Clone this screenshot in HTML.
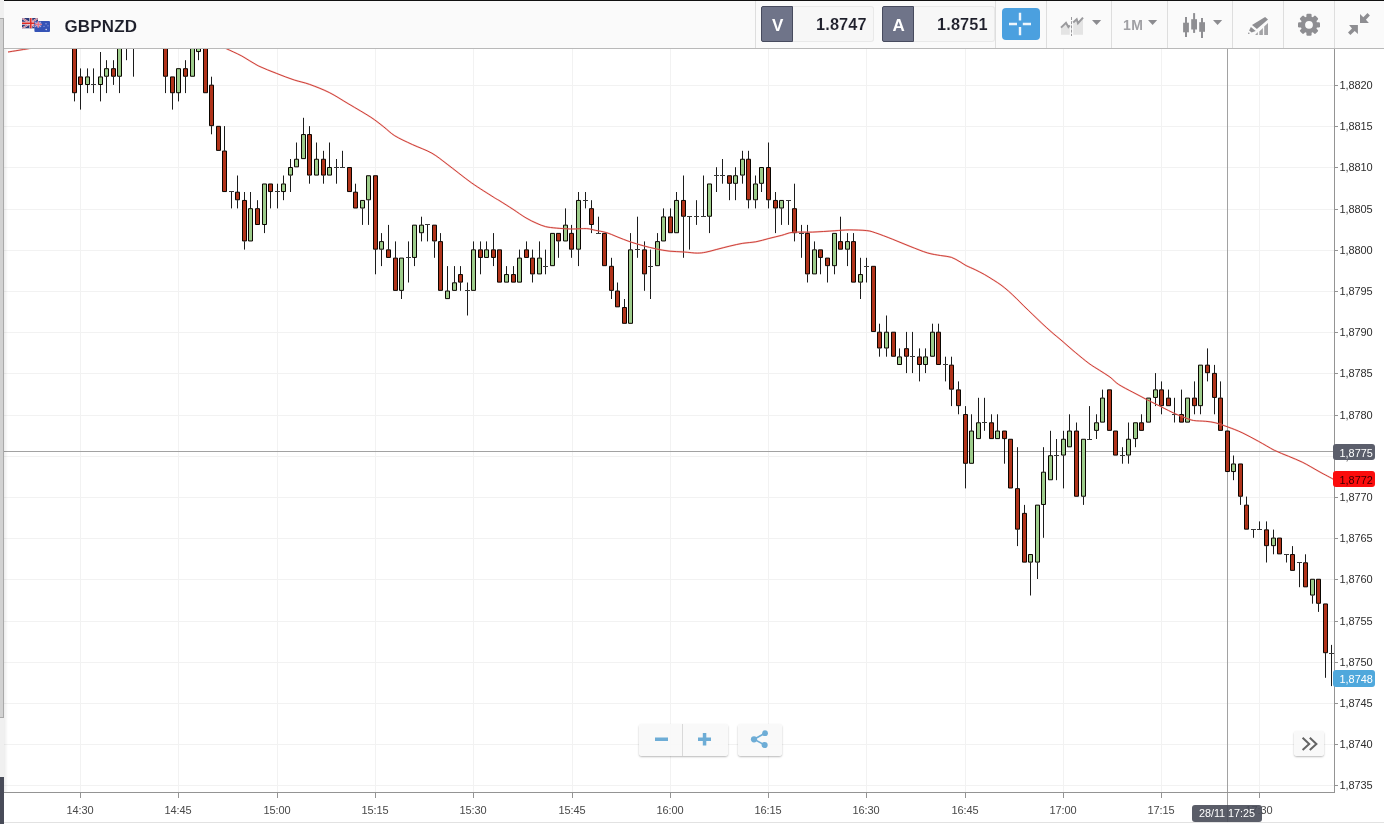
<!DOCTYPE html>
<html lang="en">
<head>
<meta charset="utf-8">
<title>GBPNZD</title>
<style>
html,body{margin:0;padding:0;}
body{width:1384px;height:824px;position:relative;overflow:hidden;background:#fff;font-family:"Liberation Sans",Arial,sans-serif;}
.abs{position:absolute;}
#leftstrip{left:0;top:0;width:3.6px;height:824px;background:#f0f0f0;}
#thumb{left:0;top:18px;width:3px;height:700px;background:#d2d2d2;border-right:1px solid #a9a9a9;border-top:1px solid #a9a9a9;border-bottom:1px solid #a9a9a9;box-sizing:border-box;width:3.6px;}
#darkblk{left:0;top:777px;width:3.6px;height:47px;background:#484b58;}
#topline{left:4px;top:0;width:1380px;height:1px;background:#111;}
#header{left:4px;top:1px;width:1380px;height:47px;background:#fafafa;border-bottom:1px solid #b9b9b9;}
.sep{position:absolute;top:1px;width:1px;height:47px;background:#dedede;}
#title{left:64.5px;top:15.5px;font-size:17px;font-weight:bold;color:#1e1f2b;line-height:22px;letter-spacing:0.15px;white-space:nowrap;-webkit-text-stroke:0.1px #fafafa;}
.pbtn{position:absolute;top:6px;height:36px;box-sizing:border-box;}
.pbtn span{position:relative;top:1px;}
.pv span{top:0.2px;}
.pl{width:32px;background:#6f7489;border:1px solid #474b5e;border-radius:2px 0 0 2px;color:#fff;font-weight:bold;font-size:17px;text-align:center;line-height:35px;padding-left:1.5px;}
.pv{width:81px;background:#f7f7f7;border:1px solid #e9e9e9;border-left:none;border-radius:0 3px 3px 0;color:#1e1f2b;font-weight:bold;font-size:16.3px;text-align:right;line-height:35px;padding-right:6.3px;letter-spacing:0.15px;-webkit-text-stroke:0.1px #f7f7f7;}
#cross{left:1002px;top:8px;width:38px;height:32px;background:#4ba0df;border-radius:4px;}
#svgov{left:0;top:0;}
.lbl{position:absolute;left:1333px;width:42px;height:16.5px;border-radius:3px;font-size:10.9px;line-height:18.3px;box-sizing:border-box;padding-left:6.5px;white-space:nowrap;overflow:hidden;}
.zbtn{position:absolute;background:rgba(248,248,248,0.88);box-shadow:0 1px 2px rgba(0,0,0,0.28);}
#tip{left:1192px;top:805px;width:70px;height:17px;border-radius:3px;background:rgba(72,75,88,0.9);color:#fff;font-size:10.8px;line-height:17px;text-align:center;white-space:nowrap;}
#botline{left:4px;top:822px;width:1380px;height:1px;background:#e2e2e2;}
</style>
</head>
<body>
<svg class="abs" id="chart" style="left:0;top:0" width="1384" height="824" viewBox="0 0 1384 824">
<g stroke="#f2f2f2" stroke-width="1"><line x1="4" x2="1334" y1="85.5" y2="85.5"/><line x1="4" x2="1334" y1="126.5" y2="126.5"/><line x1="4" x2="1334" y1="167.5" y2="167.5"/><line x1="4" x2="1334" y1="209.5" y2="209.5"/><line x1="4" x2="1334" y1="250.5" y2="250.5"/><line x1="4" x2="1334" y1="291.5" y2="291.5"/><line x1="4" x2="1334" y1="332.5" y2="332.5"/><line x1="4" x2="1334" y1="373.5" y2="373.5"/><line x1="4" x2="1334" y1="415.5" y2="415.5"/><line x1="4" x2="1334" y1="456.5" y2="456.5"/><line x1="4" x2="1334" y1="497.5" y2="497.5"/><line x1="4" x2="1334" y1="538.5" y2="538.5"/><line x1="4" x2="1334" y1="579.5" y2="579.5"/><line x1="4" x2="1334" y1="621.5" y2="621.5"/><line x1="4" x2="1334" y1="662.5" y2="662.5"/><line x1="4" x2="1334" y1="703.5" y2="703.5"/><line x1="4" x2="1334" y1="744.5" y2="744.5"/><line x1="4" x2="1334" y1="785.5" y2="785.5"/><line x1="80.5" x2="80.5" y1="49" y2="792"/><line x1="178.5" x2="178.5" y1="49" y2="792"/><line x1="277.5" x2="277.5" y1="49" y2="792"/><line x1="375.5" x2="375.5" y1="49" y2="792"/><line x1="473.5" x2="473.5" y1="49" y2="792"/><line x1="572.5" x2="572.5" y1="49" y2="792"/><line x1="670.5" x2="670.5" y1="49" y2="792"/><line x1="768.5" x2="768.5" y1="49" y2="792"/><line x1="866.5" x2="866.5" y1="49" y2="792"/><line x1="965.5" x2="965.5" y1="49" y2="792"/><line x1="1063.5" x2="1063.5" y1="49" y2="792"/><line x1="1161.5" x2="1161.5" y1="49" y2="792"/><line x1="1259.5" x2="1259.5" y1="49" y2="792"/></g>
<g stroke="#a2a2a2" stroke-width="1"><line x1="4" x2="1334" y1="451.5" y2="451.5"/><line x1="1227.5" x2="1227.5" y1="49" y2="822"/></g>
<path d="M74.5 93.1V101.4M80.5 68.4V76.7M80.5 84.9V109.6M87.5 68.4V76.7M87.5 84.9V93.1M93.5 68.4V93.1M100.5 52.0V76.7M100.5 84.9V101.4M106.5 60.2V68.4M106.5 76.7V93.1M113.5 60.2V68.4M113.5 76.7V84.9M119.5 76.7V93.1M126.5 19.0V60.2M133.5 19.0V76.7M165.5 76.7V93.1M172.5 93.1V109.6M178.5 93.1V101.4M185.5 60.2V68.4M185.5 76.7V93.1M198.5 19.0V43.7M198.5 52.0V60.2M211.5 76.7V84.9M211.5 126.1V134.3M224.5 126.1V150.8M231.5 192.0V208.4M237.5 175.5V192.0M237.5 200.2V208.4M244.5 192.0V200.2M244.5 241.4V249.6M250.5 192.0V208.4M257.5 200.2V208.4M264.5 224.9V233.1M270.5 192.0V208.4M277.5 183.7V208.4M283.5 175.5V183.7M283.5 192.0V200.2M290.5 159.0V167.2M290.5 175.5V192.0M296.5 142.5V159.0M303.5 117.8V134.3M309.5 126.1V134.3M309.5 175.5V183.7M316.5 142.5V159.0M323.5 150.8V159.0M323.5 175.5V183.7M329.5 142.5V167.2M336.5 159.0V183.7M342.5 150.8V167.2M355.5 183.7V192.0M362.5 208.4V224.9M368.5 200.2V224.9M375.5 249.6V274.3M381.5 233.1V241.4M381.5 249.6V266.1M388.5 224.9V249.6M395.5 241.4V257.8M401.5 290.8V299.0M408.5 241.4V282.5M414.5 257.8V266.1M421.5 216.7V224.9M421.5 233.1V241.4M427.5 224.9V241.4M434.5 241.4V257.8M440.5 233.1V241.4M447.5 266.1V290.8M454.5 266.1V282.5M460.5 266.1V274.3M460.5 282.5V290.8M467.5 282.5V315.5M473.5 241.4V249.6M480.5 241.4V249.6M480.5 257.8V274.3M486.5 241.4V249.6M493.5 233.1V249.6M493.5 257.8V266.1M506.5 266.1V274.3M513.5 266.1V274.3M519.5 249.6V257.8M526.5 241.4V249.6M532.5 249.6V257.8M532.5 274.3V282.5M539.5 241.4V257.8M545.5 249.6V274.3M558.5 241.4V257.8M565.5 208.4V224.9M571.5 224.9V233.1M571.5 249.6V257.8M578.5 192.0V200.2M578.5 249.6V266.1M585.5 192.0V208.4M591.5 200.2V208.4M591.5 224.9V233.1M598.5 216.7V233.1M611.5 257.8V266.1M611.5 290.8V299.0M617.5 282.5V290.8M624.5 299.0V307.2M630.5 233.1V249.6M637.5 216.7V257.8M644.5 241.4V249.6M644.5 274.3V290.8M650.5 249.6V299.0M657.5 233.1V241.4M663.5 208.4V216.7M670.5 208.4V216.7M676.5 192.0V200.2M683.5 175.5V200.2M683.5 216.7V257.8M689.5 216.7V249.6M696.5 200.2V224.9M703.5 175.5V216.7M709.5 216.7V233.1M716.5 167.2V192.0M722.5 159.0V183.7M729.5 183.7V200.2M735.5 167.2V175.5M735.5 183.7V200.2M742.5 150.8V159.0M742.5 175.5V183.7M748.5 150.8V159.0M748.5 200.2V208.4M755.5 175.5V183.7M755.5 200.2V208.4M761.5 183.7V192.0M768.5 142.5V167.2M768.5 200.2V208.4M775.5 192.0V200.2M775.5 208.4V233.1M781.5 208.4V224.9M788.5 200.2V224.9M794.5 183.7V208.4M794.5 233.1V241.4M801.5 224.9V257.8M807.5 224.9V233.1M807.5 274.3V282.5M814.5 241.4V249.6M820.5 257.8V274.3M827.5 266.1V282.5M834.5 266.1V274.3M840.5 216.7V241.4M847.5 233.1V241.4M847.5 249.6V266.1M853.5 233.1V241.4M860.5 257.8V274.3M860.5 282.5V299.0M866.5 257.8V282.5M879.5 323.7V331.9M879.5 348.4V356.7M886.5 315.5V331.9M886.5 348.4V356.7M899.5 348.4V356.7M906.5 331.9V348.4M906.5 356.7V373.1M912.5 331.9V373.1M919.5 348.4V356.7M919.5 364.9V381.4M925.5 348.4V356.7M925.5 364.9V373.1M932.5 323.7V331.9M938.5 323.7V331.9M945.5 356.7V381.4M951.5 356.7V364.9M951.5 389.6V406.1M958.5 381.4V389.6M958.5 406.1V414.3M965.5 406.1V414.3M965.5 463.7V488.4M971.5 414.3V430.8M978.5 397.8V422.5M984.5 397.8V430.8M991.5 414.3V422.5M997.5 414.3V430.8M1004.5 439.0V463.7M1017.5 447.2V488.4M1017.5 529.6V546.1M1024.5 504.9V513.1M1030.5 562.5V595.5M1037.5 562.5V579.0M1043.5 447.2V471.9M1043.5 504.9V537.8M1050.5 430.8V455.5M1056.5 439.0V480.2M1063.5 430.8V439.0M1063.5 455.5V488.4M1069.5 414.3V430.8M1076.5 422.5V430.8M1083.5 496.6V504.9M1089.5 406.1V439.0M1096.5 414.3V422.5M1096.5 430.8V439.0M1102.5 389.6V397.8M1122.5 447.2V463.7M1128.5 422.5V439.0M1128.5 455.5V463.7M1135.5 439.0V447.2M1141.5 414.3V422.5M1155.5 373.1V389.6M1155.5 397.8V406.1M1161.5 381.4V389.6M1161.5 406.1V414.3M1168.5 389.6V397.8M1174.5 397.8V422.5M1181.5 389.6V414.3M1194.5 381.4V397.8M1194.5 406.1V414.3M1200.5 406.1V414.3M1207.5 348.4V364.9M1207.5 373.1V381.4M1214.5 364.9V373.1M1214.5 397.8V414.3M1220.5 381.4V397.8M1233.5 455.5V463.7M1233.5 471.9V480.2M1240.5 496.6V504.9M1246.5 496.6V504.9M1253.5 529.6V537.8M1259.5 521.4V529.6M1266.5 521.4V529.6M1266.5 546.1V562.5M1273.5 529.6V537.8M1273.5 546.1V554.3M1286.5 554.3V562.5M1292.5 546.1V554.3M1299.5 562.5V587.2M1305.5 554.3V562.5M1312.5 595.5V603.7M1318.5 603.7V611.9M1325.5 653.1V677.8M1331.5 644.9V686.1" stroke="#1c1c1c" stroke-width="1" fill="none"/>
<path d="M91.0 84.5H96.0M124.0 19.5H129.0M131.0 19.5H136.0M229.0 191.5H234.0M275.0 191.5H280.0M334.0 167.5H339.0M340.0 167.5H345.0M406.0 257.5H411.0M425.0 224.5H430.0M465.0 290.5H470.0M543.0 266.5H548.0M583.0 200.5H588.0M596.0 233.5H601.0M635.0 249.5H640.0M648.0 266.5H653.0M687.0 216.5H692.0M694.0 216.5H699.0M701.0 216.5H706.0M714.0 175.5H719.0M720.0 175.5H725.0M786.0 200.5H791.0M799.0 233.5H804.0M864.0 266.5H869.0M910.0 356.5H915.0M943.0 364.5H948.0M982.0 422.5H987.0M1054.0 455.5H1059.0M1087.0 439.5H1092.0M1120.0 455.5H1125.0M1172.0 414.5H1177.0M1251.0 529.5H1256.0M1257.0 529.5H1262.0M1284.0 554.5H1289.0M1297.0 562.5H1302.0M1329.0 653.5H1334.0" stroke="#3a3a3a" stroke-width="1" fill="none"/>
<g stroke="#0a0500" stroke-width="1" stroke-linejoin="round"><rect x="72.5" y="19.27" width="4" height="73.46" fill="#b0331a"/><rect x="78.5" y="76.92" width="4" height="7.58" fill="#b0331a"/><rect x="85.5" y="76.92" width="4" height="7.58" fill="#9dcc8b"/><rect x="98.5" y="76.92" width="4" height="7.58" fill="#9dcc8b"/><rect x="104.5" y="68.68" width="4" height="7.58" fill="#9dcc8b"/><rect x="111.5" y="68.68" width="4" height="7.58" fill="#b0331a"/><rect x="117.5" y="19.27" width="4" height="56.99" fill="#9dcc8b"/><rect x="163.5" y="19.27" width="4" height="56.99" fill="#b0331a"/><rect x="170.5" y="76.92" width="4" height="15.82" fill="#b0331a"/><rect x="176.5" y="68.68" width="4" height="24.05" fill="#9dcc8b"/><rect x="183.5" y="68.68" width="4" height="7.58" fill="#b0331a"/><rect x="190.5" y="19.27" width="4" height="56.99" fill="#9dcc8b"/><rect x="196.5" y="43.98" width="4" height="7.58" fill="#9dcc8b"/><rect x="203.5" y="19.27" width="4" height="73.46" fill="#b0331a"/><rect x="209.5" y="85.15" width="4" height="40.52" fill="#b0331a"/><rect x="216.5" y="126.33" width="4" height="24.05" fill="#b0331a"/><rect x="222.5" y="151.03" width="4" height="40.52" fill="#b0331a"/><rect x="235.5" y="192.20" width="4" height="7.59" fill="#b0331a"/><rect x="242.5" y="200.44" width="4" height="40.52" fill="#b0331a"/><rect x="248.5" y="208.68" width="4" height="32.29" fill="#9dcc8b"/><rect x="255.5" y="208.68" width="4" height="15.82" fill="#b0331a"/><rect x="262.5" y="183.97" width="4" height="40.53" fill="#9dcc8b"/><rect x="268.5" y="183.97" width="4" height="7.58" fill="#b0331a"/><rect x="281.5" y="183.97" width="4" height="7.58" fill="#9dcc8b"/><rect x="288.5" y="167.50" width="4" height="7.59" fill="#9dcc8b"/><rect x="294.5" y="159.26" width="4" height="7.59" fill="#9dcc8b"/><rect x="301.5" y="134.56" width="4" height="24.05" fill="#9dcc8b"/><rect x="307.5" y="134.56" width="4" height="40.53" fill="#b0331a"/><rect x="314.5" y="159.26" width="4" height="15.82" fill="#9dcc8b"/><rect x="321.5" y="159.26" width="4" height="15.82" fill="#b0331a"/><rect x="327.5" y="167.50" width="4" height="7.59" fill="#9dcc8b"/><rect x="347.5" y="167.50" width="4" height="24.05" fill="#b0331a"/><rect x="353.5" y="192.20" width="4" height="15.82" fill="#b0331a"/><rect x="360.5" y="200.44" width="4" height="7.59" fill="#9dcc8b"/><rect x="366.5" y="175.74" width="4" height="24.05" fill="#9dcc8b"/><rect x="373.5" y="175.74" width="4" height="73.46" fill="#b0331a"/><rect x="379.5" y="241.61" width="4" height="7.59" fill="#9dcc8b"/><rect x="386.5" y="249.85" width="4" height="7.59" fill="#b0331a"/><rect x="393.5" y="258.09" width="4" height="32.29" fill="#b0331a"/><rect x="399.5" y="258.09" width="4" height="32.29" fill="#9dcc8b"/><rect x="412.5" y="225.15" width="4" height="32.29" fill="#9dcc8b"/><rect x="419.5" y="225.15" width="4" height="7.58" fill="#9dcc8b"/><rect x="432.5" y="225.15" width="4" height="15.82" fill="#b0331a"/><rect x="438.5" y="241.61" width="4" height="48.76" fill="#b0331a"/><rect x="445.5" y="291.02" width="4" height="7.59" fill="#9dcc8b"/><rect x="452.5" y="282.79" width="4" height="7.59" fill="#9dcc8b"/><rect x="458.5" y="274.55" width="4" height="7.59" fill="#b0331a"/><rect x="471.5" y="249.85" width="4" height="40.52" fill="#9dcc8b"/><rect x="478.5" y="249.85" width="4" height="7.59" fill="#b0331a"/><rect x="484.5" y="249.85" width="4" height="7.59" fill="#9dcc8b"/><rect x="491.5" y="249.85" width="4" height="7.59" fill="#b0331a"/><rect x="497.5" y="249.85" width="4" height="32.29" fill="#b0331a"/><rect x="504.5" y="274.55" width="4" height="7.59" fill="#9dcc8b"/><rect x="511.5" y="274.55" width="4" height="7.59" fill="#b0331a"/><rect x="517.5" y="258.09" width="4" height="24.05" fill="#9dcc8b"/><rect x="524.5" y="249.85" width="4" height="7.59" fill="#b0331a"/><rect x="530.5" y="258.09" width="4" height="15.82" fill="#b0331a"/><rect x="537.5" y="258.09" width="4" height="15.82" fill="#9dcc8b"/><rect x="550.5" y="233.38" width="4" height="32.29" fill="#9dcc8b"/><rect x="556.5" y="233.38" width="4" height="7.58" fill="#b0331a"/><rect x="563.5" y="225.15" width="4" height="15.82" fill="#9dcc8b"/><rect x="569.5" y="233.38" width="4" height="15.82" fill="#b0331a"/><rect x="576.5" y="200.44" width="4" height="48.76" fill="#9dcc8b"/><rect x="589.5" y="208.68" width="4" height="15.82" fill="#b0331a"/><rect x="602.5" y="233.38" width="4" height="32.29" fill="#b0331a"/><rect x="609.5" y="266.32" width="4" height="24.05" fill="#b0331a"/><rect x="615.5" y="291.02" width="4" height="15.82" fill="#b0331a"/><rect x="622.5" y="307.50" width="4" height="15.82" fill="#b0331a"/><rect x="628.5" y="249.85" width="4" height="73.47" fill="#9dcc8b"/><rect x="642.5" y="249.85" width="4" height="24.05" fill="#b0331a"/><rect x="655.5" y="241.61" width="4" height="24.06" fill="#9dcc8b"/><rect x="661.5" y="216.91" width="4" height="24.05" fill="#9dcc8b"/><rect x="668.5" y="216.91" width="4" height="15.82" fill="#b0331a"/><rect x="674.5" y="200.44" width="4" height="32.29" fill="#9dcc8b"/><rect x="681.5" y="200.44" width="4" height="15.82" fill="#b0331a"/><rect x="707.5" y="183.97" width="4" height="32.29" fill="#9dcc8b"/><rect x="727.5" y="175.74" width="4" height="7.58" fill="#b0331a"/><rect x="733.5" y="175.74" width="4" height="7.58" fill="#9dcc8b"/><rect x="740.5" y="159.26" width="4" height="15.82" fill="#9dcc8b"/><rect x="746.5" y="159.26" width="4" height="40.53" fill="#b0331a"/><rect x="753.5" y="183.97" width="4" height="15.82" fill="#9dcc8b"/><rect x="759.5" y="167.50" width="4" height="15.82" fill="#9dcc8b"/><rect x="766.5" y="167.50" width="4" height="32.29" fill="#b0331a"/><rect x="773.5" y="200.44" width="4" height="7.59" fill="#b0331a"/><rect x="779.5" y="200.44" width="4" height="7.59" fill="#9dcc8b"/><rect x="792.5" y="208.68" width="4" height="24.05" fill="#b0331a"/><rect x="805.5" y="233.38" width="4" height="40.52" fill="#b0331a"/><rect x="812.5" y="249.85" width="4" height="24.05" fill="#9dcc8b"/><rect x="818.5" y="249.85" width="4" height="7.59" fill="#b0331a"/><rect x="825.5" y="258.09" width="4" height="7.58" fill="#b0331a"/><rect x="832.5" y="233.38" width="4" height="32.29" fill="#9dcc8b"/><rect x="838.5" y="241.61" width="4" height="7.59" fill="#b0331a"/><rect x="845.5" y="241.61" width="4" height="7.59" fill="#9dcc8b"/><rect x="851.5" y="241.61" width="4" height="40.52" fill="#b0331a"/><rect x="858.5" y="274.55" width="4" height="7.59" fill="#9dcc8b"/><rect x="871.5" y="266.32" width="4" height="65.23" fill="#b0331a"/><rect x="877.5" y="332.20" width="4" height="15.82" fill="#b0331a"/><rect x="884.5" y="332.20" width="4" height="15.82" fill="#9dcc8b"/><rect x="891.5" y="332.20" width="4" height="24.05" fill="#b0331a"/><rect x="897.5" y="356.90" width="4" height="7.59" fill="#9dcc8b"/><rect x="904.5" y="348.67" width="4" height="7.59" fill="#b0331a"/><rect x="917.5" y="356.90" width="4" height="7.59" fill="#b0331a"/><rect x="923.5" y="356.90" width="4" height="7.59" fill="#9dcc8b"/><rect x="930.5" y="332.20" width="4" height="24.05" fill="#9dcc8b"/><rect x="936.5" y="332.20" width="4" height="32.29" fill="#b0331a"/><rect x="949.5" y="365.14" width="4" height="24.06" fill="#b0331a"/><rect x="956.5" y="389.85" width="4" height="15.82" fill="#b0331a"/><rect x="963.5" y="414.55" width="4" height="48.76" fill="#b0331a"/><rect x="969.5" y="431.02" width="4" height="32.29" fill="#9dcc8b"/><rect x="976.5" y="422.78" width="4" height="15.82" fill="#9dcc8b"/><rect x="989.5" y="422.78" width="4" height="15.82" fill="#b0331a"/><rect x="995.5" y="431.02" width="4" height="7.59" fill="#9dcc8b"/><rect x="1002.5" y="431.02" width="4" height="7.59" fill="#b0331a"/><rect x="1008.5" y="439.25" width="4" height="48.76" fill="#b0331a"/><rect x="1015.5" y="488.66" width="4" height="40.52" fill="#b0331a"/><rect x="1022.5" y="513.37" width="4" height="48.76" fill="#b0331a"/><rect x="1028.5" y="554.54" width="4" height="7.59" fill="#9dcc8b"/><rect x="1035.5" y="505.13" width="4" height="56.99" fill="#9dcc8b"/><rect x="1041.5" y="472.19" width="4" height="32.29" fill="#9dcc8b"/><rect x="1048.5" y="455.73" width="4" height="24.05" fill="#9dcc8b"/><rect x="1061.5" y="439.25" width="4" height="15.82" fill="#9dcc8b"/><rect x="1067.5" y="431.02" width="4" height="15.82" fill="#9dcc8b"/><rect x="1074.5" y="431.02" width="4" height="65.23" fill="#b0331a"/><rect x="1081.5" y="439.25" width="4" height="56.99" fill="#9dcc8b"/><rect x="1094.5" y="422.78" width="4" height="7.59" fill="#9dcc8b"/><rect x="1100.5" y="398.08" width="4" height="24.06" fill="#9dcc8b"/><rect x="1107.5" y="389.85" width="4" height="40.52" fill="#b0331a"/><rect x="1113.5" y="431.02" width="4" height="24.06" fill="#b0331a"/><rect x="1126.5" y="439.25" width="4" height="15.82" fill="#9dcc8b"/><rect x="1133.5" y="422.78" width="4" height="15.82" fill="#9dcc8b"/><rect x="1139.5" y="422.78" width="4" height="7.59" fill="#b0331a"/><rect x="1146.5" y="398.08" width="4" height="24.06" fill="#9dcc8b"/><rect x="1153.5" y="389.85" width="4" height="7.58" fill="#9dcc8b"/><rect x="1159.5" y="389.85" width="4" height="15.82" fill="#b0331a"/><rect x="1166.5" y="398.08" width="4" height="7.59" fill="#b0331a"/><rect x="1179.5" y="414.55" width="4" height="7.59" fill="#b0331a"/><rect x="1185.5" y="398.08" width="4" height="24.06" fill="#9dcc8b"/><rect x="1192.5" y="398.08" width="4" height="7.59" fill="#b0331a"/><rect x="1198.5" y="365.14" width="4" height="40.52" fill="#9dcc8b"/><rect x="1205.5" y="365.14" width="4" height="7.59" fill="#b0331a"/><rect x="1212.5" y="373.38" width="4" height="24.05" fill="#b0331a"/><rect x="1218.5" y="398.08" width="4" height="32.29" fill="#b0331a"/><rect x="1225.5" y="431.02" width="4" height="40.52" fill="#b0331a"/><rect x="1231.5" y="463.96" width="4" height="7.59" fill="#9dcc8b"/><rect x="1238.5" y="463.96" width="4" height="32.29" fill="#b0331a"/><rect x="1244.5" y="505.13" width="4" height="24.05" fill="#b0331a"/><rect x="1264.5" y="529.84" width="4" height="15.82" fill="#b0331a"/><rect x="1271.5" y="538.07" width="4" height="7.59" fill="#9dcc8b"/><rect x="1277.5" y="538.07" width="4" height="15.82" fill="#b0331a"/><rect x="1290.5" y="554.54" width="4" height="15.82" fill="#b0331a"/><rect x="1303.5" y="562.78" width="4" height="24.06" fill="#b0331a"/><rect x="1310.5" y="579.25" width="4" height="15.82" fill="#9dcc8b"/><rect x="1316.5" y="579.25" width="4" height="24.05" fill="#b0331a"/><rect x="1323.5" y="603.95" width="4" height="48.76" fill="#b0331a"/></g>
<path d="M8.0 52.0C9.7 51.7 14.5 51.0 18.0 50.4C21.5 49.8 25.3 49.2 29.0 48.6C32.7 48.0 38.2 46.9 40.0 46.5M220.0 45.5C221.1 46.0 223.0 47.0 226.6 48.8C230.2 50.5 236.5 53.2 241.8 56.0C247.1 58.8 252.4 62.9 258.2 65.8C264.0 68.7 270.8 71.1 276.8 73.5C282.8 75.9 288.8 78.2 294.3 80.0C299.8 81.8 303.8 82.3 309.6 84.4C315.4 86.5 322.6 89.2 329.2 92.5C335.8 95.8 342.0 100.0 348.9 104.1C355.8 108.2 365.0 113.4 370.8 117.2C376.6 121.0 379.9 123.9 383.9 127.0C387.9 130.1 390.1 132.9 394.8 135.8C399.5 138.7 406.1 141.6 412.3 144.5C418.5 147.4 426.1 149.9 431.9 153.2C437.7 156.5 440.6 159.3 447.2 164.2C453.8 169.1 463.6 177.2 471.3 182.7C479.0 188.1 488.3 193.8 493.1 196.9C497.9 200.0 496.7 198.9 500.0 201.0C503.3 203.1 508.7 206.5 513.0 209.3C517.3 212.1 522.0 215.6 526.0 217.9C530.0 220.2 533.6 222.0 536.9 223.4C540.1 224.8 542.2 225.8 545.5 226.6C548.8 227.4 552.1 227.7 556.4 228.1C560.7 228.5 566.5 228.9 571.5 229.0C576.5 229.1 582.7 228.4 586.7 228.6C590.7 228.8 592.1 229.7 595.4 230.3C598.6 231.0 602.6 231.4 606.2 232.5C609.8 233.6 613.1 235.2 617.1 236.8C621.1 238.4 625.8 240.3 630.1 241.8C634.4 243.3 638.8 244.5 643.1 245.7C647.4 246.9 651.8 248.0 656.1 248.9C660.4 249.8 664.4 250.6 669.1 251.1C673.8 251.6 679.6 251.7 684.3 252.0C689.0 252.3 693.7 253.1 697.3 253.1C700.9 253.1 702.6 252.8 705.9 252.2C709.1 251.6 712.8 250.4 716.8 249.4C720.8 248.4 725.5 247.1 729.8 246.1C734.1 245.1 738.5 244.0 742.8 243.3C747.1 242.6 751.5 242.6 755.8 241.8C760.1 241.0 764.5 239.6 768.8 238.5C773.1 237.4 777.8 236.3 781.8 235.3C785.8 234.3 787.9 232.8 793.0 232.3C798.1 231.8 805.6 232.3 812.5 232.1C819.4 231.8 828.1 231.2 834.2 230.8C840.4 230.4 844.0 229.9 849.4 229.9C854.8 229.9 862.4 230.1 866.7 230.6C871.0 231.1 871.1 231.4 875.4 232.8C879.7 234.2 886.9 237.0 892.7 239.3C898.5 241.6 904.3 244.1 910.1 246.4C915.9 248.7 922.4 251.4 927.4 252.9C932.4 254.4 936.4 254.8 940.4 255.5C944.4 256.2 948.0 256.2 951.3 257.3C954.6 258.4 957.5 260.4 960.0 261.8C962.5 263.2 963.6 264.3 966.1 265.6C968.6 266.9 972.2 268.2 975.2 269.7C978.2 271.2 981.3 272.7 984.3 274.4C987.3 276.1 990.6 278.2 993.4 280.0C996.2 281.8 998.5 283.1 1001.0 285.0C1003.5 286.9 1006.0 288.9 1008.5 291.1C1011.0 293.3 1013.6 295.8 1016.1 298.2C1018.6 300.6 1020.9 303.1 1023.7 305.8C1026.5 308.5 1029.8 311.7 1032.8 314.6C1035.8 317.5 1038.9 320.5 1041.9 323.3C1044.9 326.1 1047.5 328.5 1051.0 331.6C1054.5 334.7 1059.0 338.3 1063.1 341.8C1067.1 345.3 1071.0 348.8 1075.3 352.4C1079.6 356.0 1084.9 360.4 1088.9 363.4C1092.9 366.4 1096.0 368.0 1099.5 370.3C1103.0 372.6 1106.8 374.7 1110.0 377.1C1113.2 379.5 1114.9 382.0 1118.7 384.5C1122.5 387.0 1128.1 389.7 1132.8 392.2C1137.5 394.7 1142.3 397.3 1147.0 399.7C1151.7 402.1 1156.5 404.4 1161.2 406.8C1165.9 409.2 1171.3 412.0 1175.3 413.8C1179.3 415.6 1182.4 416.8 1185.4 417.9C1188.4 419.0 1190.1 419.9 1193.5 420.5C1196.9 421.1 1202.0 420.9 1205.7 421.3C1209.4 421.7 1212.1 421.9 1215.8 422.9C1219.5 423.8 1223.5 425.4 1227.9 427.0C1232.3 428.6 1237.0 430.3 1242.1 432.7C1247.2 435.1 1252.9 438.3 1258.3 441.2C1263.7 444.1 1269.4 447.8 1274.4 450.3C1279.5 452.8 1283.9 454.3 1288.6 456.3C1293.3 458.3 1297.7 459.9 1302.8 462.4C1307.9 464.9 1313.8 468.6 1319.0 471.5C1324.2 474.4 1331.5 478.2 1334.0 479.6" stroke="#f4a9a4" stroke-width="1.7" fill="none" stroke-linejoin="round" opacity="0.55"/>
<path d="M8.0 52.0C9.7 51.7 14.5 51.0 18.0 50.4C21.5 49.8 25.3 49.2 29.0 48.6C32.7 48.0 38.2 46.9 40.0 46.5M220.0 45.5C221.1 46.0 223.0 47.0 226.6 48.8C230.2 50.5 236.5 53.2 241.8 56.0C247.1 58.8 252.4 62.9 258.2 65.8C264.0 68.7 270.8 71.1 276.8 73.5C282.8 75.9 288.8 78.2 294.3 80.0C299.8 81.8 303.8 82.3 309.6 84.4C315.4 86.5 322.6 89.2 329.2 92.5C335.8 95.8 342.0 100.0 348.9 104.1C355.8 108.2 365.0 113.4 370.8 117.2C376.6 121.0 379.9 123.9 383.9 127.0C387.9 130.1 390.1 132.9 394.8 135.8C399.5 138.7 406.1 141.6 412.3 144.5C418.5 147.4 426.1 149.9 431.9 153.2C437.7 156.5 440.6 159.3 447.2 164.2C453.8 169.1 463.6 177.2 471.3 182.7C479.0 188.1 488.3 193.8 493.1 196.9C497.9 200.0 496.7 198.9 500.0 201.0C503.3 203.1 508.7 206.5 513.0 209.3C517.3 212.1 522.0 215.6 526.0 217.9C530.0 220.2 533.6 222.0 536.9 223.4C540.1 224.8 542.2 225.8 545.5 226.6C548.8 227.4 552.1 227.7 556.4 228.1C560.7 228.5 566.5 228.9 571.5 229.0C576.5 229.1 582.7 228.4 586.7 228.6C590.7 228.8 592.1 229.7 595.4 230.3C598.6 231.0 602.6 231.4 606.2 232.5C609.8 233.6 613.1 235.2 617.1 236.8C621.1 238.4 625.8 240.3 630.1 241.8C634.4 243.3 638.8 244.5 643.1 245.7C647.4 246.9 651.8 248.0 656.1 248.9C660.4 249.8 664.4 250.6 669.1 251.1C673.8 251.6 679.6 251.7 684.3 252.0C689.0 252.3 693.7 253.1 697.3 253.1C700.9 253.1 702.6 252.8 705.9 252.2C709.1 251.6 712.8 250.4 716.8 249.4C720.8 248.4 725.5 247.1 729.8 246.1C734.1 245.1 738.5 244.0 742.8 243.3C747.1 242.6 751.5 242.6 755.8 241.8C760.1 241.0 764.5 239.6 768.8 238.5C773.1 237.4 777.8 236.3 781.8 235.3C785.8 234.3 787.9 232.8 793.0 232.3C798.1 231.8 805.6 232.3 812.5 232.1C819.4 231.8 828.1 231.2 834.2 230.8C840.4 230.4 844.0 229.9 849.4 229.9C854.8 229.9 862.4 230.1 866.7 230.6C871.0 231.1 871.1 231.4 875.4 232.8C879.7 234.2 886.9 237.0 892.7 239.3C898.5 241.6 904.3 244.1 910.1 246.4C915.9 248.7 922.4 251.4 927.4 252.9C932.4 254.4 936.4 254.8 940.4 255.5C944.4 256.2 948.0 256.2 951.3 257.3C954.6 258.4 957.5 260.4 960.0 261.8C962.5 263.2 963.6 264.3 966.1 265.6C968.6 266.9 972.2 268.2 975.2 269.7C978.2 271.2 981.3 272.7 984.3 274.4C987.3 276.1 990.6 278.2 993.4 280.0C996.2 281.8 998.5 283.1 1001.0 285.0C1003.5 286.9 1006.0 288.9 1008.5 291.1C1011.0 293.3 1013.6 295.8 1016.1 298.2C1018.6 300.6 1020.9 303.1 1023.7 305.8C1026.5 308.5 1029.8 311.7 1032.8 314.6C1035.8 317.5 1038.9 320.5 1041.9 323.3C1044.9 326.1 1047.5 328.5 1051.0 331.6C1054.5 334.7 1059.0 338.3 1063.1 341.8C1067.1 345.3 1071.0 348.8 1075.3 352.4C1079.6 356.0 1084.9 360.4 1088.9 363.4C1092.9 366.4 1096.0 368.0 1099.5 370.3C1103.0 372.6 1106.8 374.7 1110.0 377.1C1113.2 379.5 1114.9 382.0 1118.7 384.5C1122.5 387.0 1128.1 389.7 1132.8 392.2C1137.5 394.7 1142.3 397.3 1147.0 399.7C1151.7 402.1 1156.5 404.4 1161.2 406.8C1165.9 409.2 1171.3 412.0 1175.3 413.8C1179.3 415.6 1182.4 416.8 1185.4 417.9C1188.4 419.0 1190.1 419.9 1193.5 420.5C1196.9 421.1 1202.0 420.9 1205.7 421.3C1209.4 421.7 1212.1 421.9 1215.8 422.9C1219.5 423.8 1223.5 425.4 1227.9 427.0C1232.3 428.6 1237.0 430.3 1242.1 432.7C1247.2 435.1 1252.9 438.3 1258.3 441.2C1263.7 444.1 1269.4 447.8 1274.4 450.3C1279.5 452.8 1283.9 454.3 1288.6 456.3C1293.3 458.3 1297.7 459.9 1302.8 462.4C1307.9 464.9 1313.8 468.6 1319.0 471.5C1324.2 474.4 1331.5 478.2 1334.0 479.6" stroke="#c4261e" stroke-width="0.85" fill="none" stroke-linejoin="round"/>

<g stroke="#949494" stroke-width="1">
<line x1="4" x2="1335" y1="792.5" y2="792.5"/>
<line x1="1334.5" x2="1334.5" y1="49" y2="793"/>
<line x1="1335" x2="1338" y1="85.5" y2="85.5"/><line x1="1335" x2="1338" y1="126.5" y2="126.5"/><line x1="1335" x2="1338" y1="167.5" y2="167.5"/><line x1="1335" x2="1338" y1="209.5" y2="209.5"/><line x1="1335" x2="1338" y1="250.5" y2="250.5"/><line x1="1335" x2="1338" y1="291.5" y2="291.5"/><line x1="1335" x2="1338" y1="332.5" y2="332.5"/><line x1="1335" x2="1338" y1="373.5" y2="373.5"/><line x1="1335" x2="1338" y1="415.5" y2="415.5"/><line x1="1335" x2="1338" y1="456.5" y2="456.5"/><line x1="1335" x2="1338" y1="497.5" y2="497.5"/><line x1="1335" x2="1338" y1="538.5" y2="538.5"/><line x1="1335" x2="1338" y1="579.5" y2="579.5"/><line x1="1335" x2="1338" y1="621.5" y2="621.5"/><line x1="1335" x2="1338" y1="662.5" y2="662.5"/><line x1="1335" x2="1338" y1="703.5" y2="703.5"/><line x1="1335" x2="1338" y1="744.5" y2="744.5"/><line x1="1335" x2="1338" y1="785.5" y2="785.5"/><line x1="80.5" x2="80.5" y1="793" y2="798"/><line x1="178.5" x2="178.5" y1="793" y2="798"/><line x1="277.5" x2="277.5" y1="793" y2="798"/><line x1="375.5" x2="375.5" y1="793" y2="798"/><line x1="473.5" x2="473.5" y1="793" y2="798"/><line x1="572.5" x2="572.5" y1="793" y2="798"/><line x1="670.5" x2="670.5" y1="793" y2="798"/><line x1="768.5" x2="768.5" y1="793" y2="798"/><line x1="866.5" x2="866.5" y1="793" y2="798"/><line x1="965.5" x2="965.5" y1="793" y2="798"/><line x1="1063.5" x2="1063.5" y1="793" y2="798"/><line x1="1161.5" x2="1161.5" y1="793" y2="798"/><line x1="1259.5" x2="1259.5" y1="793" y2="798"/>
</g>
<g font-family="'Liberation Sans', Arial, sans-serif" font-size="11" letter-spacing="-0.12" fill="#2e2e2e">
<text x="1339.5" y="89.2">1,8820</text><text x="1339.5" y="130.2">1,8815</text><text x="1339.5" y="171.2">1,8810</text><text x="1339.5" y="213.2">1,8805</text><text x="1339.5" y="254.2">1,8800</text><text x="1339.5" y="295.2">1,8795</text><text x="1339.5" y="336.2">1,8790</text><text x="1339.5" y="377.2">1,8785</text><text x="1339.5" y="419.2">1,8780</text><text x="1339.5" y="460.2">1,8775</text><text x="1339.5" y="501.2">1,8770</text><text x="1339.5" y="542.2">1,8765</text><text x="1339.5" y="583.2">1,8760</text><text x="1339.5" y="625.2">1,8755</text><text x="1339.5" y="666.2">1,8750</text><text x="1339.5" y="707.2">1,8745</text><text x="1339.5" y="748.2">1,8740</text><text x="1339.5" y="789.2">1,8735</text>
</g>
<g font-family="'Liberation Sans', Arial, sans-serif" font-size="11" letter-spacing="-0.15" fill="#484848">
<text x="80.0" y="814" text-anchor="middle">14:30</text><text x="178.0" y="814" text-anchor="middle">14:45</text><text x="277.0" y="814" text-anchor="middle">15:00</text><text x="375.0" y="814" text-anchor="middle">15:15</text><text x="473.0" y="814" text-anchor="middle">15:30</text><text x="572.0" y="814" text-anchor="middle">15:45</text><text x="670.0" y="814" text-anchor="middle">16:00</text><text x="768.0" y="814" text-anchor="middle">16:15</text><text x="866.0" y="814" text-anchor="middle">16:30</text><text x="965.0" y="814" text-anchor="middle">16:45</text><text x="1063.0" y="814" text-anchor="middle">17:00</text><text x="1161.0" y="814" text-anchor="middle">17:15</text><text x="1259.0" y="814" text-anchor="middle">17:30</text>
</g>

</svg>

<div class="abs" id="botline"></div>
<div class="abs" style="left:4px;top:49px;width:4px;height:743px;background:linear-gradient(to right,rgba(0,0,0,0.07),rgba(0,0,0,0))"></div>
<div class="abs" id="leftstrip"></div>
<div class="abs" id="thumb"></div>
<div class="abs" id="darkblk"></div>
<div class="abs" id="topline"></div>
<div class="abs" id="header"></div>

<!-- header separators -->
<div class="sep" style="left:755px"></div>
<div class="sep" style="left:995px"></div>
<div class="sep" style="left:1046px"></div>
<div class="sep" style="left:1111px"></div>
<div class="sep" style="left:1167px"></div>
<div class="sep" style="left:1232px"></div>
<div class="sep" style="left:1283px"></div>
<div class="sep" style="left:1334px"></div>

<div class="abs" id="title">GBPNZD</div>

<div class="pbtn pl" style="left:761px"><span>V</span></div>
<div class="pbtn pv" style="left:793px"><span>1.8747</span></div>
<div class="pbtn pl" style="left:882px"><span>A</span></div>
<div class="pbtn pv" style="left:914px"><span>1.8751</span></div>
<div class="abs" id="cross"></div>

<div class="abs" style="left:1123px;top:15px;font-size:14px;font-weight:bold;color:#a0a0a4;line-height:20px;letter-spacing:0.4px">1M</div>

<!-- floating buttons -->
<div class="zbtn" style="left:639px;top:724px;width:89px;height:32px;border-radius:3px"></div>
<div class="zbtn" style="left:738px;top:724px;width:44px;height:32px;border-radius:3px"></div>
<div class="zbtn" style="left:1294px;top:731px;width:30px;height:25px;border-radius:3px"></div>

<!-- price labels -->
<div class="lbl" style="top:443.5px;background:#5b5e6b;color:#fff">1,8775</div>
<div class="lbl" style="top:470.5px;background:#fb0d0d;color:#3a0000">1,8772</div>
<div class="lbl" style="top:670px;background:#4fa8dc;color:#fff">1,8748</div>
<div class="abs" id="tip">28/11 17:25</div>

<!-- icon overlay -->
<svg class="abs" id="svgov" width="1384" height="824" viewBox="0 0 1384 824">
<!-- flags -->
<g id="flag-gb">
<clipPath id="cgb"><rect x="22" y="18" width="16" height="10.6" rx="1.2"/></clipPath>
<g clip-path="url(#cgb)">
<rect x="22" y="18" width="16" height="10.6" fill="#2d3a78"/>
<path d="M22 18L38 28.6M38 18L22 28.6" stroke="#d9c9dc" stroke-width="2"/>
<path d="M22 18L38 28.6M38 18L22 28.6" stroke="#c8505c" stroke-width="0.7"/>
<path d="M30.8 18V28.6M22 23.2H38" stroke="#f0d8dc" stroke-width="2.9"/>
<path d="M30.8 18V28.6M22 23.2H38" stroke="#de2a24" stroke-width="1.5"/>
</g>
</g>
<g id="flag-nz">
<rect x="34.4" y="21" width="15.6" height="11" rx="1" fill="#3553b6"/>
<path d="M35 21.8L41 26.8M41 21.8L35 26.8" stroke="#cfc6e6" stroke-width="1.1" opacity="0.8"/>
<path d="M38.3 21.4V27.4M35 24.4H41.6" stroke="#efb8c2" stroke-width="1.9"/>
<path d="M38.3 21.4V27.4M35 24.4H41.6" stroke="#ee6c7c" stroke-width="1"/>
<circle cx="46" cy="23.8" r="0.7" fill="#9aa8e6"/><circle cx="48" cy="25.8" r="0.6" fill="#9aa8e6"/><circle cx="44" cy="26.3" r="0.6" fill="#9aa8e6"/><circle cx="46.2" cy="29.5" r="0.8" fill="#d6d8f4"/>
</g>

<!-- crosshair glyph -->
<g stroke="#eef6fc" stroke-width="2.4">
<path d="M1020 12.8V20.6M1020 27.1V35.2M1009 24H1017M1022.8 24H1031"/>
</g>

<!-- compare icon -->
<g>
<path d="M1061 27.6L1066 22.8L1068.4 27L1069.8 25.4V34.8H1061Z" fill="#e4e4e4"/>
<path d="M1073.2 22.4L1076.7 19.2L1078 23.2L1083 17.6V34.8H1073.2Z" fill="#e4e4e4"/>
<path d="M1061 27.6L1066 22.8L1068.4 27L1069.8 25.4" stroke="#9a9a9d" stroke-width="2" fill="none"/>
<path d="M1073.2 22.4L1076.7 19.2L1078 23.2L1083 17.6" stroke="#9a9a9d" stroke-width="2" fill="none"/>
<path d="M1071.5 17V36" stroke="#9a9a9d" stroke-width="1" stroke-dasharray="3 1.2"/>
</g>
<path d="M1092 20H1101.2L1096.6 25Z" fill="#8c8c90"/>
<path d="M1148 20H1157.2L1152.6 25Z" fill="#8c8c90"/>
<path d="M1213 20H1222.2L1217.6 25Z" fill="#8c8c90"/>

<!-- candle icon -->
<g fill="#8e8e92">
<rect x="1185" y="17" width="2" height="20"/><rect x="1183.1" y="22.7" width="5.8" height="9.6"/>
<rect x="1193.1" y="13.1" width="2" height="19.8"/><rect x="1191.2" y="19.2" width="5.8" height="10.3"/>
<rect x="1201" y="18" width="2" height="20"/><rect x="1199.2" y="22.2" width="5.8" height="9.6"/>
</g>

<!-- pencil/bars icon -->
<g fill="#8e8e92">
<path d="M1252 25.1L1265.1 16.9L1268 19.6L1256.9 29.1Z"/>
<path d="M1250.9 27.1L1255.7 31.1L1251.6 32.4L1249.1 30.4Z"/>
<circle cx="1248.8" cy="33.2" r="0.8"/>
<path d="M1264.2 26.4L1268 22.9V34.9H1264.2Z" fill="#a3a3a6"/>
<path d="M1259.3 31.5L1262.9 28V34.9H1259.3Z" fill="#a3a3a6"/>
<path d="M1255.1 34.9L1257.8 32V34.9Z" fill="#a3a3a6"/>
</g>

<!-- gear icon -->
<g transform="translate(1309 24.8)" fill="#8e8e92">
<g id="teeth">
<rect x="-2.6" y="-11" width="5.2" height="22" rx="1.2"/>
<rect x="-2.6" y="-11" width="5.2" height="22" rx="1.2" transform="rotate(45)"/>
<rect x="-2.6" y="-11" width="5.2" height="22" rx="1.2" transform="rotate(90)"/>
<rect x="-2.6" y="-11" width="5.2" height="22" rx="1.2" transform="rotate(135)"/>
</g>
<circle r="8.4"/>
<circle r="3.9" fill="#fafafa"/>
</g>

<!-- collapse arrows -->
<g fill="#8e8e92">
<path d="M1360 14V22.95H1368.9L1365.9 19.8L1369.9 15.4L1367.5 13L1363.3 17.2Z"/>
<path d="M1349.1 25.1H1357.9V33.9L1354.7 30.9L1350.4 35L1348 32.5L1352 28.4Z"/>
</g>

<!-- zoom buttons glyphs -->
<rect x="682" y="724" width="1" height="32" fill="#d9d9d9"/>
<g fill="#6eadd6">
<rect x="655" y="737.5" width="13" height="3.5"/>
<rect x="698" y="737.5" width="13" height="3.5"/>
<rect x="702.8" y="733" width="3.5" height="12.5"/>
<circle cx="754" cy="739.3" r="3.1"/><circle cx="765" cy="733.2" r="2.9"/><circle cx="764.6" cy="745" r="3.1"/>
</g>
<path d="M765 733.2L754 739.3L764.6 745" stroke="#6eadd6" stroke-width="1.6" fill="none"/>
<path d="M1302.6 737.8L1309.2 743.9L1302.6 750M1309.8 737.8L1316.4 743.9L1309.8 750" stroke="#646464" stroke-width="2" fill="none"/>
</svg>
</body>
</html>
